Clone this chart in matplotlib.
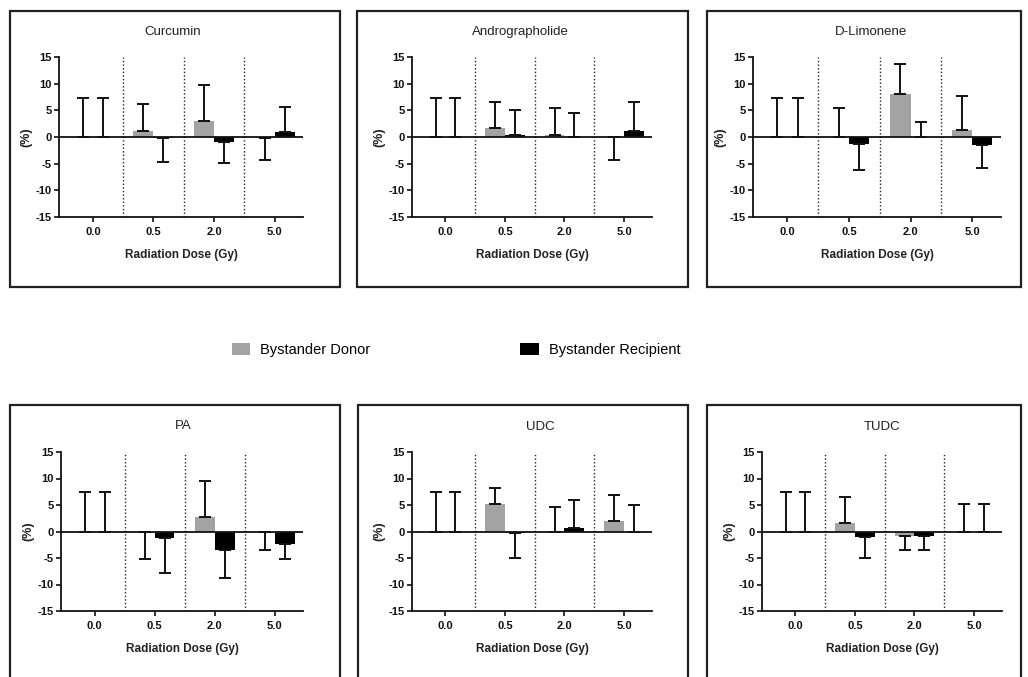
import numpy as np
import matplotlib.pyplot as plt
from matplotlib.patches import Rectangle, Patch

plt.rcParams['font.family'] = ['Liberation Sans', 'DejaVu Sans']
plt.rcParams['axes.unicode_minus'] = False

doses = ['0.0', '0.5', '2.0', '5.0']
compounds = ['Curcumin', 'Andrographolide', 'D-Limonene', 'PA', 'UDC', 'TUDC']

# mean change (%) per compound, one value per dose
donor_mean = [[0, 1.1, 2.95, -0.1],
              [0, 1.75, 0.35, -0.05],
              [0, 0, 8.0, 1.3],
              [0, -0.05, 2.75, -0.05],
              [0, 5.25, 0, 1.95],
              [0, 1.55, -0.8, 0]]
donor_err = [[7.4, 5.0, 6.85, 4.3],
             [7.4, 4.85, 5.05, 4.35],
             [7.4, 5.4, 5.6, 6.3],
             [7.4, 5.15, 6.75, 3.45],
             [7.4, 2.95, 4.6, 4.85],
             [7.4, 4.95, 2.65, 5.1]]
recipient_mean = [[0, -0.1, -0.9, 1.0],
                  [0, 0.4, 0, 1.1],
                  [0, -1.3, 0, -1.5],
                  [0, -1.3, -3.4, -2.3],
                  [0, -0.2, 0.75, 0],
                  [0, -0.95, -0.9, 0]]
recipient_err = [[7.4, 4.65, 4.0, 4.6],
                 [7.4, 4.7, 4.5, 5.5],
                 [7.4, 4.9, 2.9, 4.4],
                 [7.4, 6.5, 5.4, 2.9],
                 [7.4, 4.8, 5.15, 5.0],
                 [7.4, 4.05, 2.55, 5.1]]

W, H = 1028, 677
grey = '#a3a3a3'

# layout in pixels: axes (left, right, top, bottom), panel boxes, title centres
axes_px = [(59, 303, 57, 217), (412, 652, 57, 217), (753, 1001, 57, 217),
           (61, 303, 452, 611), (412, 652, 452, 611), (762, 1002, 452, 611)]
box_px = [(10, 340, 11, 287), (357, 688, 11, 287), (707, 1021, 11, 287),
          (10, 340, 405, 700), (358, 688, 405, 700), (707, 1021, 405, 700)]
title_px = [(173, 32), (520, 32), (871, 32), (183, 426), (540, 427), (882, 427)]

fig = plt.figure(figsize=(W / 100, H / 100), dpi=100)

for (l, r, t, b) in box_px:
    fig.patches.append(Rectangle((l / W, 1 - b / H), (r - l) / W, (b - t) / H,
                                 transform=fig.transFigure, fill=False,
                                 edgecolor='#222222', linewidth=1.6))

x = np.arange(len(doses))
w = 0.33

def one_sided(mean, err):
    mean = np.array(mean, dtype=float)
    err = np.array(err, dtype=float)
    lower = np.where(mean < 0, err, 0)
    upper = np.where(mean < 0, 0, err)
    return [lower, upper]

for i, name in enumerate(compounds):
    l, r, t, b = axes_px[i]
    ax = fig.add_axes([l / W, 1 - b / H, (r - l) / W, (b - t) / H])
    ax.bar(x - w / 2, donor_mean[i], w, color=grey, zorder=2)
    ax.bar(x + w / 2, recipient_mean[i], w, color='black', zorder=2)
    ax.errorbar(x - w / 2, donor_mean[i], yerr=one_sided(donor_mean[i], donor_err[i]),
                fmt='none', ecolor='#111111', elinewidth=1.4, capsize=4, capthick=1.4, zorder=3)
    ax.errorbar(x + w / 2, recipient_mean[i], yerr=one_sided(recipient_mean[i], recipient_err[i]),
                fmt='none', ecolor='#111111', elinewidth=1.4, capsize=4, capthick=1.4, zorder=3)
    ax.axhline(0, color='#111111', lw=1.3, zorder=4)
    for d in [0.5, 1.5, 2.5]:
        ax.axvline(d, color='#222222', lw=1.0, ls=(0, (1, 1.6)), zorder=1)

    ax.set_xlim(-0.56, 3.47)
    ax.set_ylim(-15, 15)
    ax.set_yticks([-15, -10, -5, 0, 5, 10, 15])
    ax.set_xticks(x)
    ax.set_xticklabels(doses)
    for s in ['top', 'right']:
        ax.spines[s].set_visible(False)
    for s in ['left', 'bottom']:
        ax.spines[s].set_linewidth(1.3)
        ax.spines[s].set_color('#111111')
    ax.tick_params(axis='both', length=3.5, width=1.2, labelsize=8, pad=2, colors='#111111')
    ax.tick_params(axis='x', pad=4)
    for lab in ax.get_xticklabels() + ax.get_yticklabels():
        lab.set_fontweight('bold')
    ax.set_xlabel('Radiation Dose (Gy)', fontsize=8.5, fontweight='bold', labelpad=8, color='#222222')
    ax.set_ylabel('(%)', fontsize=9, fontweight='bold', labelpad=2, color='#222222')

    tx, ty = title_px[i]
    fig.text(tx / W, 1 - ty / H, name, ha='center', va='center', fontsize=9.5, color='#222222')

handles = [Patch(facecolor=grey, edgecolor='none'), Patch(facecolor='black', edgecolor='none')]
fig.legend(handles, ['Bystander Donor', 'Bystander Recipient'], loc='center',
           bbox_to_anchor=(456 / W, 1 - 350 / H), ncol=2, frameon=False,
           fontsize=10.5, handlelength=1.25, handleheight=0.8, handletextpad=0.7,
           columnspacing=10.3)

fig.savefig('out.png', dpi=100)
